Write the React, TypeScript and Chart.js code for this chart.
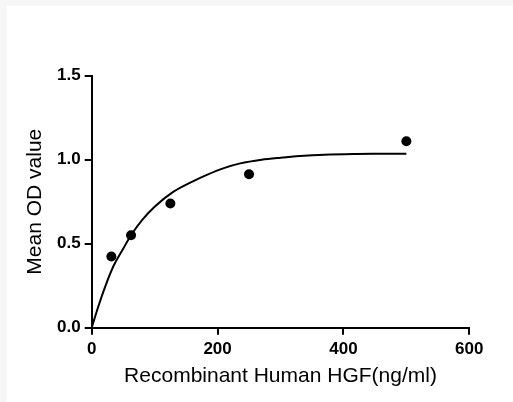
import React, { useEffect, useRef } from "react";
import { Chart, registerables } from "chart.js";

Chart.register(...registerables);

const concentrations = [31.25, 62.5, 125, 250, 500];
const meanOD = [0.424, 0.55, 0.739, 0.913, 1.11];

const curveX = [0, 10, 20, 35, 50, 62.5, 80, 100, 130, 160, 183, 210, 236, 270, 300, 331, 370, 420, 460, 500];
const curveY = [0, 0.12, 0.23, 0.37, 0.47, 0.55, 0.64, 0.72, 0.81, 0.87, 0.91, 0.95, 0.978, 1.0, 1.012, 1.022, 1.03, 1.034, 1.035, 1.036];

const xTicks = [0, 200, 400, 600];
const yTicks = [0, 0.5, 1.0, 1.5];

const xTitle = "Recombinant Human HGF(ng/ml)";
const yTitle = "Mean OD value";

const FONT = "'Liberation Sans', Arial, Helvetica, sans-serif";

export default function App() {
  const ref = useRef<HTMLCanvasElement | null>(null);

  useEffect(() => {
    if (!ref.current) return;
    const chart = new Chart(ref.current, {
      type: "scatter",
      data: {
        datasets: [
          {
            type: "line",
            label: "fit",
            data: curveX.map((x, i) => ({ x, y: curveY[i] })),
            borderColor: "#000",
            borderWidth: 2,
            pointRadius: 0,
            fill: false,
            cubicInterpolationMode: "monotone",
            showLine: true,
          } as any,
          {
            label: "data",
            data: concentrations.map((x, i) => ({ x, y: meanOD[i] })),
            backgroundColor: "#000",
            borderColor: "#000",
            pointRadius: 5,
            pointBorderWidth: 0,
          },
        ],
      },
      options: {
        responsive: false,
        animation: false,
        layout: { padding: { left: 0, right: 43.7, top: 69.7, bottom: 0 } },
        plugins: { legend: { display: false }, tooltip: { enabled: false } },
        scales: {
          x: {
            type: "linear",
            min: xTicks[0],
            max: xTicks[xTicks.length - 1],
            afterFit: (s: any) => {
              s.height = 74.3;
            },
            afterBuildTicks: (s: any) => {
              s.ticks = xTicks.map((v) => ({ value: v }));
            },
            ticks: {
              color: "#000",
              font: { family: FONT, size: 17, weight: "bold" },
              padding: 4,
              maxRotation: 0,
              callback: (v: any) => String(v),
            },
            grid: {
              drawOnChartArea: false,
              drawTicks: true,
              tickLength: 7,
              color: "#000",
              lineWidth: 2,
            },
            border: { display: true, color: "#000", width: 2 },
            title: {
              display: true,
              text: xTitle,
              color: "#000",
              font: { family: FONT, size: 21 },
              padding: { top: 0, bottom: 13 },
            },
          },
          y: {
            type: "linear",
            min: yTicks[0],
            max: yTicks[yTicks.length - 1],
            afterFit: (s: any) => {
              s.width = 84.7;
            },
            afterBuildTicks: (s: any) => {
              s.ticks = yTicks.map((v) => ({ value: v }));
            },
            ticks: {
              color: "#000",
              font: { family: FONT, size: 17, weight: "bold" },
              padding: 4,
              callback: (v: any) => Number(v).toFixed(1),
            },
            grid: {
              drawOnChartArea: false,
              drawTicks: true,
              tickLength: 7,
              color: "#000",
              lineWidth: 2,
            },
            border: { display: true, color: "#000", width: 2 },
            title: {
              display: true,
              text: yTitle,
              color: "#000",
              font: { family: FONT, size: 21 },
              padding: { top: 16, bottom: 0 },
            },
          },
        },
      },
    } as any);
    return () => chart.destroy();
  }, []);

  return (
    <div
      style={{
        position: "absolute",
        left: 0,
        top: 0,
        width: 513,
        height: 402,
        background: "#f6f6f6",
      }}
    >
      <div
        style={{
          position: "absolute",
          left: 7,
          top: 6,
          width: 506,
          height: 396,
          background: "#fff",
        }}
      >
        <canvas ref={ref} width={506} height={396} style={{ display: "block" }} />
      </div>
    </div>
  );
}
